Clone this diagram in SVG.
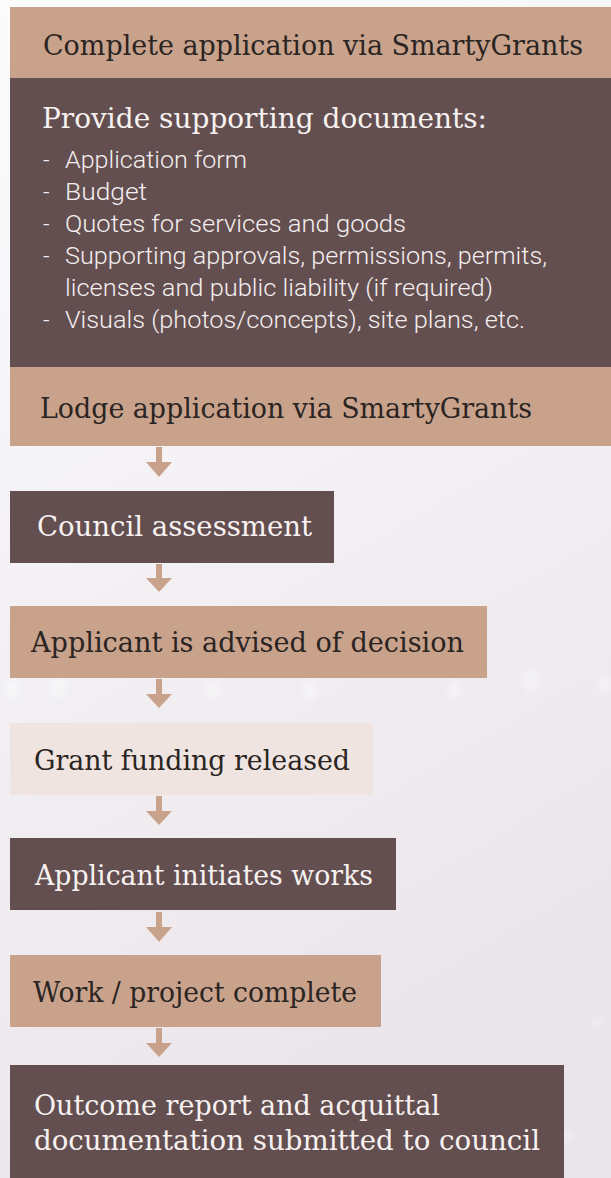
<svg xmlns="http://www.w3.org/2000/svg" width="611" height="1178" viewBox="0 0 611 1178">
  <defs>
    <linearGradient id="bg" x1="0" y1="0" x2="0.3" y2="1">
      <stop offset="0" stop-color="#FBFBFC"/>
      <stop offset="0.4" stop-color="#F5F3F6"/>
      <stop offset="1" stop-color="#EAE5EA"/>
    </linearGradient>
    <filter id="blur" x="-50%" y="-50%" width="200%" height="200%">
      <feGaussianBlur stdDeviation="3"/>
    </filter>
    <style>
      .tan { fill: #C9A28C; }
      .dark { fill: #634E50; }
      .light { fill: #EFE4DF; }
      .slab { font-family: "DejaVu Serif", "Liberation Serif", serif; font-size: 28px; }
      .sans { font-family: Roboto, "Liberation Sans", Arial, sans-serif; font-weight: 300; font-size: 23px; fill: #F4EFEE; }
      .ink { fill: #2A2422; }
      .paper { fill: #F7F2F0; }
      .arrow { fill: #C9A28C; }
    </style>
  </defs>

  <rect x="0" y="0" width="611" height="1178" fill="url(#bg)"/>
  <g fill="#FFFFFF" opacity="0.4" filter="url(#blur)">
    <ellipse cx="12" cy="690" rx="8" ry="11"/>
    <ellipse cx="58" cy="688" rx="8" ry="10"/>
    <ellipse cx="213" cy="690" rx="7" ry="10"/>
    <ellipse cx="310" cy="690" rx="7" ry="11"/>
    <ellipse cx="454" cy="690" rx="6" ry="10"/>
    <ellipse cx="531" cy="680" rx="8" ry="12"/>
    <ellipse cx="605" cy="684" rx="6" ry="10"/>
    <ellipse cx="597" cy="1022" rx="4" ry="5"/>
    <ellipse cx="568" cy="1137" rx="4" ry="5"/>
  </g>

  <g id="connectors">
    <path class="arrow" d="M156 447 H162 V462 H172 L159 477 L146 462 H156 Z"/>
    <path class="arrow" d="M156 564 H162 V578 H172 L159 592 L146 578 H156 Z"/>
    <path class="arrow" d="M156 679 H162 V694 H172 L159 708 L146 694 H156 Z"/>
    <path class="arrow" d="M156 796 H162 V811 H172 L159 825 L146 811 H156 Z"/>
    <path class="arrow" d="M156 912 H162 V927 H172 L159 942 L146 927 H156 Z"/>
    <path class="arrow" d="M156 1028 H162 V1043 H172 L159 1057 L146 1043 H156 Z"/>
  </g>

  <g id="node-complete">
    <rect class="tan" x="10" y="7" width="601" height="71"/>
    <text class="slab ink" x="43" y="55" textLength="540" lengthAdjust="spacingAndGlyphs">Complete application via SmartyGrants</text>
  </g>

  <g id="node-documents">
    <rect class="dark" x="10" y="78" width="601" height="289"/>
    <text class="slab paper" x="42" y="128" textLength="445" lengthAdjust="spacingAndGlyphs">Provide supporting documents:</text>
    <g class="sans">
      <text x="43" y="168">-</text>
      <text x="65" y="168" textLength="182" lengthAdjust="spacingAndGlyphs">Application form</text>
      <text x="43" y="200">-</text>
      <text x="65" y="200" textLength="82" lengthAdjust="spacingAndGlyphs">Budget</text>
      <text x="43" y="232">-</text>
      <text x="65" y="232" textLength="341" lengthAdjust="spacingAndGlyphs">Quotes for services and goods</text>
      <text x="43" y="264">-</text>
      <text x="65" y="264" textLength="482" lengthAdjust="spacingAndGlyphs">Supporting approvals, permissions, permits,</text>
      <text x="65" y="296" textLength="428" lengthAdjust="spacingAndGlyphs">licenses and public liability (if required)</text>
      <text x="43" y="328">-</text>
      <text x="65" y="328" textLength="460" lengthAdjust="spacingAndGlyphs">Visuals (photos/concepts), site plans, etc.</text>
    </g>
  </g>

  <g id="node-lodge">
    <rect class="tan" x="10" y="367" width="601" height="79"/>
    <text class="slab ink" x="40" y="418" textLength="492" lengthAdjust="spacingAndGlyphs">Lodge application via SmartyGrants</text>
  </g>

  <g id="node-assessment">
    <rect class="dark" x="10" y="491" width="324" height="72"/>
    <text class="slab paper" x="37" y="536" textLength="275" lengthAdjust="spacingAndGlyphs">Council assessment</text>
  </g>

  <g id="node-advised">
    <rect class="tan" x="10" y="606" width="477" height="72"/>
    <text class="slab ink" x="31" y="652" textLength="433" lengthAdjust="spacingAndGlyphs">Applicant is advised of decision</text>
  </g>

  <g id="node-funding">
    <rect class="light" x="10" y="723" width="363" height="72"/>
    <text class="slab ink" x="34" y="770" textLength="316" lengthAdjust="spacingAndGlyphs">Grant funding released</text>
  </g>

  <g id="node-initiates">
    <rect class="dark" x="10" y="838" width="386" height="72"/>
    <text class="slab paper" x="35" y="885" textLength="338" lengthAdjust="spacingAndGlyphs">Applicant initiates works</text>
  </g>

  <g id="node-complete-work">
    <rect class="tan" x="10" y="955" width="371" height="72"/>
    <text class="slab ink" x="33" y="1002" textLength="324" lengthAdjust="spacingAndGlyphs">Work / project complete</text>
  </g>

  <g id="node-outcome">
    <rect class="dark" x="10" y="1065" width="554" height="113"/>
    <text class="slab paper" x="34" y="1115" textLength="406" lengthAdjust="spacingAndGlyphs">Outcome report and acquittal</text>
    <text class="slab paper" x="34" y="1150" textLength="506" lengthAdjust="spacingAndGlyphs">documentation submitted to council</text>
  </g>
</svg>
